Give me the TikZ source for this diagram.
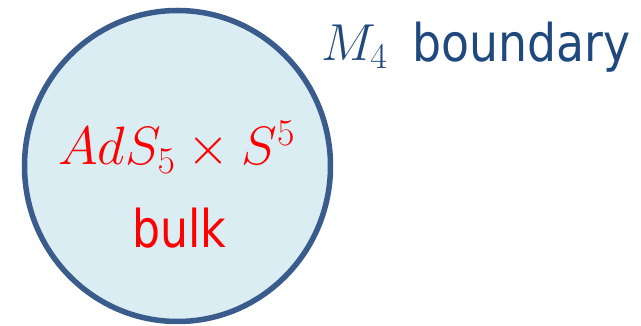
\documentclass[tikz,border=0pt]{standalone}
\usepackage{fix-cm}
\usepackage{fontspec}
\setmainfont{DejaVu Sans}
\usepackage{graphicx}
\definecolor{edgeblue}{HTML}{3A5C8C}
\definecolor{fillblue}{HTML}{DAEDF3}
\definecolor{textblue}{HTML}{1F497D}
\begin{document}
\begin{tikzpicture}[x=1pt,y=1pt,
  lbl/.style={inner sep=0pt,outer sep=0pt},
  bigfont/.style={font=\fontsize{52}{60}\selectfont}]
\useasboundingbox (0,0) rectangle (641,326);
\draw[edgeblue,fill=fillblue,line width=5.5pt] (177.5,160) ellipse [x radius=153, y radius=155.5];
\node[lbl,bigfont,anchor=base west,text=textblue] (m4) at (321,265) {$M_4$};
\node[lbl,bigfont,anchor=base west,text=textblue] (bd) at (412,264) {\scalebox{0.88}[1]{boundary}};
\node[lbl,font=\fontsize{54}{62}\selectfont,anchor=base,text=red] (ads) at (176.5,161) {$AdS_5\times S^5$};
\node[lbl,bigfont,anchor=base,text=red] (bulk) at (179.5,78) {\scalebox{0.85}[1]{bulk}};
\end{tikzpicture}
\end{document}
